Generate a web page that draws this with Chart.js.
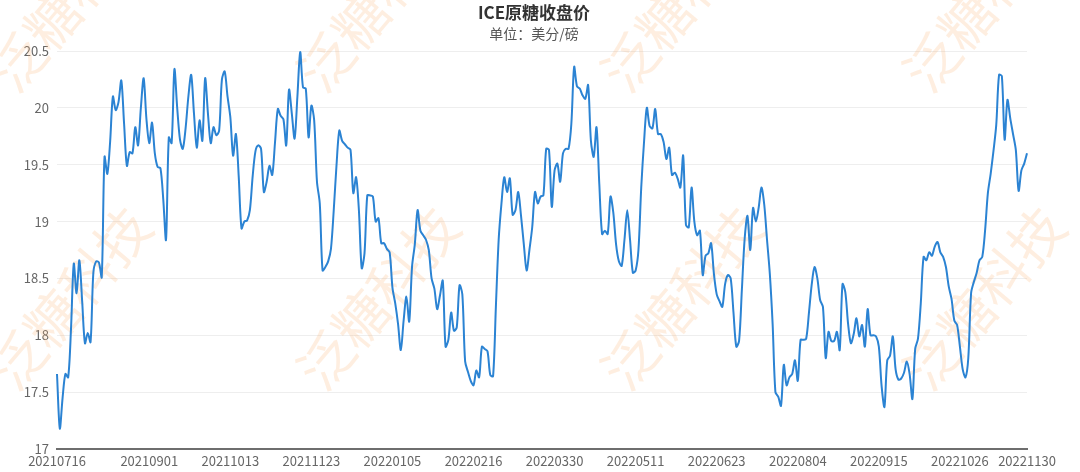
<!DOCTYPE html>
<html>
<head>
<meta charset="utf-8">
<title>ICE原糖收盘价</title>
<script src="https://cdn.jsdelivr.net/npm/chart.js@4.4.0/dist/chart.umd.min.js"></script>
<style>
    html, body { margin: 0; padding: 0; background: #fff; }
    #wrap { width: 1080px; height: 472px; position: relative; }
</style>
</head>
<body>
<div id="wrap"><canvas id="sugarChart"></canvas></div>
<script>
// ICE raw sugar close, US cents / lb
const chartTitle = 'ICE原糖收盘价';
const chartSubtitle = '单位：美分/磅';
const watermarkText = '泛糖科技';

// ICE US trading calendar: weekdays from start to end, minus exchange holidays
const firstDay = '20210716';
const lastDay = '20221130';
const holidays = ['20210906', '20211125', '20211224', '20220117', '20220221', '20220415',
    '20220530', '20220620', '20220704', '20220905', '20221124'];

const tickLabels = ['20210716', '20210901', '20211013', '20211123', '20220105', '20220216',
    '20220330', '20220511', '20220623', '20220804', '20220915', '20221026', '20221130'];

const closePrices = [
    17.66, 17.18, 17.45, 17.66, 17.63, 18.05, 18.63, 18.37, 18.66, 18.30,
    17.93, 18.02, 17.94, 18.55, 18.65, 18.64, 18.51, 19.57, 19.42, 19.70,
    20.10, 19.98, 20.05, 20.24, 19.86, 19.49, 19.61, 19.60, 19.83, 19.67,
    20.00, 20.26, 19.90, 19.69, 19.87, 19.60, 19.48, 19.47, 19.20, 18.84,
    19.74, 19.69, 20.34, 20.00, 19.72, 19.64, 19.82, 20.10, 20.29, 19.95,
    19.65, 19.89, 19.71, 20.26, 19.95, 19.69, 19.83, 19.76, 19.80, 20.25,
    20.32, 20.10, 19.92, 19.58, 19.77, 19.40, 18.94, 19.00, 19.01, 19.10,
    19.40, 19.62, 19.67, 19.64, 19.26, 19.35, 19.49, 19.41, 19.70, 19.99,
    19.93, 19.90, 19.67, 20.16, 19.95, 19.73, 20.10, 20.49, 20.18, 20.17,
    19.74, 20.02, 19.89, 19.35, 19.16, 18.57, 18.60, 18.65, 18.76, 19.10,
    19.50, 19.80, 19.71, 19.68, 19.65, 19.63, 19.25, 19.39, 19.10, 18.59,
    18.72, 19.23, 19.23, 19.22, 19.00, 19.03, 18.81, 18.81, 18.76, 18.73,
    18.42, 18.28, 18.10, 17.87, 18.13, 18.34, 18.12, 18.60, 18.80, 19.10,
    18.92, 18.88, 18.84, 18.75, 18.50, 18.41, 18.23, 18.35, 18.48, 17.90,
    17.96, 18.20, 18.04, 18.07, 18.44, 18.36, 17.77, 17.68, 17.60, 17.56,
    17.69, 17.63, 17.90, 17.88, 17.86, 17.65, 17.64, 18.25, 18.84, 19.16,
    19.39, 19.26, 19.38, 19.06, 19.10, 19.26, 19.05, 18.80, 18.57, 18.75,
    18.95, 19.26, 19.16, 19.22, 19.23, 19.64, 19.63, 19.13, 19.45, 19.51,
    19.35, 19.60, 19.64, 19.64, 19.86, 20.36, 20.19, 20.17, 20.11, 20.08,
    20.20, 19.71, 19.57, 19.83, 19.33, 18.89, 18.92, 18.89, 19.22, 19.08,
    18.80, 18.65, 18.61, 18.84, 19.10, 18.84, 18.55, 18.57, 18.75, 19.30,
    19.70, 20.00, 19.84, 19.82, 19.99, 19.77, 19.77, 19.70, 19.55, 19.65,
    19.41, 19.43, 19.38, 19.30, 19.58, 18.97, 18.95, 19.30, 19.00, 18.88,
    18.92, 18.53, 18.70, 18.72, 18.81, 18.54, 18.36, 18.30, 18.25, 18.45,
    18.53, 18.50, 18.20, 17.90, 17.95, 18.40, 18.85, 19.05, 18.75, 19.12,
    19.00, 19.12, 19.30, 19.15, 18.84, 18.54, 18.10, 17.50, 17.46, 17.38,
    17.74, 17.56, 17.63, 17.66, 17.78, 17.60, 17.96, 17.96, 17.97, 18.20,
    18.45, 18.60, 18.50, 18.31, 18.25, 17.80, 18.03, 17.95, 17.95, 18.03,
    17.87, 18.45, 18.38, 18.10, 17.93, 18.01, 18.15, 17.99, 18.09, 17.90,
    18.23, 18.00, 18.00, 17.99, 17.90, 17.55, 17.37, 17.78, 17.82, 17.99,
    17.70, 17.61, 17.62, 17.67, 17.77, 17.66, 17.44, 17.88, 17.97, 18.28,
    18.69, 18.66, 18.73, 18.70, 18.78, 18.82, 18.73, 18.69, 18.60, 18.43,
    18.32, 18.13, 18.09, 17.90, 17.70, 17.63, 17.80, 18.37, 18.47, 18.55,
    18.66, 18.69, 18.92, 19.25, 19.42, 19.62, 19.85, 20.29, 20.28, 19.72,
    20.07, 19.91, 19.77, 19.63, 19.27, 19.45, 19.51, 19.60
];

const fontFamily = '"Noto Sans CJK SC", "Noto Sans", sans-serif';

function parseDay(s) {
    return new Date(Date.UTC(+s.slice(0, 4), +s.slice(4, 6) - 1, +s.slice(6, 8)));
}

function formatDay(d) {
    const m = String(d.getUTCMonth() + 1).padStart(2, '0');
    const day = String(d.getUTCDate()).padStart(2, '0');
    return d.getUTCFullYear() + m + day;
}

function buildTradingDays(start, end) {
    const days = [];
    const d = parseDay(start);
    const stop = parseDay(end);
    while (d <= stop) {
        const wd = d.getUTCDay();
        const label = formatDay(d);
        if (wd !== 0 && wd !== 6 && holidays.indexOf(label) === -1) {
            days.push(label);
        }
        d.setUTCDate(d.getUTCDate() + 1);
    }
    return days;
}

const tradeDates = buildTradingDays(firstDay, lastDay);

// faint diagonal company watermark
const watermarkPlugin = {
    id: 'watermark',
    beforeDatasetsDraw(chart) {
        const ctx = chart.ctx;
        ctx.save();
        ctx.font = '54px ' + fontFamily;
        ctx.fillStyle = 'rgba(252, 176, 112, 0.22)';
        ctx.textAlign = 'center';
        ctx.textBaseline = 'middle';
        [70, 378, 682, 984].forEach(x => {
            [0, 298].forEach(y => {
                ctx.save();
                ctx.translate(x, y);
                ctx.rotate(-50 * Math.PI / 180);
                ctx.fillText(watermarkText, 0, 0);
                ctx.restore();
            });
        });
        ctx.restore();
    }
};

const headingPlugin = {
    id: 'heading',
    afterDraw(chart) {
        const ctx = chart.ctx;
        ctx.save();
        ctx.textAlign = 'center';
        ctx.textBaseline = 'middle';
        ctx.fillStyle = '#333';
        ctx.font = 'bold 17px ' + fontFamily;
        ctx.fillText(chartTitle, 534, 13);
        ctx.fillStyle = '#555';
        ctx.font = '14px ' + fontFamily;
        ctx.fillText(chartSubtitle, 534, 34);
        ctx.restore();
    }
};

new Chart(document.getElementById('sugarChart').getContext('2d'), {
    type: 'line',
    data: {
        labels: tradeDates,
        datasets: [{
            label: chartTitle,
            data: closePrices,
            borderColor: '#2b83d3',
            borderWidth: 2,
            pointRadius: 0,
            tension: 0.3,
            fill: false
        }]
    },
    options: {
        responsive: true,
        maintainAspectRatio: false,
        animation: false,
        layout: {
            padding: { top: 51, right: 53, left: 0, bottom: 0 }
        },
        plugins: {
            legend: { display: false },
            tooltip: { enabled: false }
        },
        scales: {
            x: {
                type: 'category',
                grid: { display: false, drawTicks: false },
                border: { color: '#6e6e6e', width: 2 },
                ticks: {
                    autoSkip: false,
                    maxRotation: 0,
                    minRotation: 0,
                    padding: 4,
                    color: '#666',
                    font: { size: 13, family: fontFamily }
                },
                afterBuildTicks: scale => {
                    scale.ticks = scale.ticks.filter(t => tickLabels.indexOf(tradeDates[t.value]) !== -1);
                },
                afterFit: scale => { scale.height = 23; }
            },
            y: {
                min: 17,
                max: 20.5,
                grid: { color: '#eeeeee', drawTicks: false },
                border: { display: false },
                ticks: {
                    stepSize: 0.5,
                    padding: 8,
                    color: '#666',
                    font: { size: 13, family: fontFamily },
                    callback: v => String(Number(v.toFixed(1)))
                },
                afterFit: scale => { scale.width = 57; }
            }
        }
    },
    plugins: [watermarkPlugin, headingPlugin]
});
</script>
</body>
</html>
